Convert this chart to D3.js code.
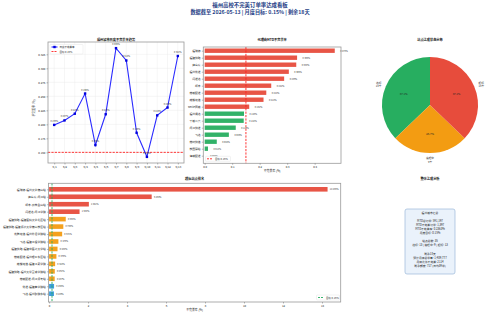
<!DOCTYPE html>
<html><head><meta charset="utf-8">
<script src="https://cdn.jsdelivr.net/npm/d3@7"></script>
<style>body{margin:0;background:#fff}svg{display:block;font-family:"Noto Sans CJK SC","Noto Sans",sans-serif}</style>
</head><body><svg id="c" width="500" height="314"></svg>
<script>
// ---------- data ----------
const mainTitle = "福州高校不完美订单率达成看板";
const subTitle = "数据截至 2026-05-13 | 月度目标: 0.15% | 剩余18天";
const target = 0.15;

const days = ["5/1","5/2","5/3","5/4","5/5","5/6","5/7","5/8","5/9","5/10","5/11","5/12","5/13"];
const dailyRate = [0.199,0.207,0.219,0.255,0.163,0.218,0.336,0.314,0.185,0.142,0.216,0.230,0.322];
const yTicksLine = [0.150,0.175,0.200,0.225,0.250,0.275,0.300,0.325];

const agents = ["福瑞德","福建快跑","蜂鸟众","福州优送","闪送达","顺丰","榕城配送","鼓楼速递","smile同城","福州通达","千城二六","闽江快送","飞达","榕树快递","校园驿站","海峡配送"];
const agentRate = [0.473,0.336,0.333,0.306,0.289,0.242,0.224,0.214,0.162,0.143,0.142,0.113,0.088,0.044,0.012,0.000];
const agentTicks = [0.0,0.1,0.2,0.3,0.4];

const statusLabels = ["达标","追赶中","超标"];
const statusCounts = [13,9,13];

const stations = ["福瑞德-福州大学旗山站","蜂鸟众-闽江站","顺丰-农林金山站","闪送达-闽江学院","福建快跑-福建医科大学北区站","福建快跑-福建师范大学旗山校区站","龙腾速递-福州外语学院站","飞达-福建工程学院站","福建快跑-福建中医药大学站","榕城配送-福州理工东区站","鼓楼速递-福建江夏学院","福建快跑-福州大学至诚学院站","榕城配送-闽江师专站","优送-福建商学院站","飞达-福州职院东站"];
const stationRate = [14.286,5.263,2.041,1.563,0.855,0.730,0.671,0.478,0.433,0.376,0.310,0.292,0.287,0.256,0.249];
const stationTicks = [0,2,4,6,8,10,12,14];

const summaryLines = ["福州城市汇总","","MTD总订单: 591,197","MTD不完美订单: 1,397","MTD不完美率: 0.2363%","月度目标: 0.15%","","站点总数: 35","达标: 13 | 追赶中: 9 | 超标: 13","","剩余18天","预计月底总单量: 1,409,777","月底允许不完美: 2114","剩余额度: 717 (日均39单)"];

// ---------- style ----------
const RED="#e74c3c", GREEN="#27ae60", ORANGE="#f39c12", BLUE="#3498db";
const svg = d3.select("#c");
const tickFont = 2.8;

function styleAxis(g){
  g.select(".domain").remove();
  g.selectAll(".tick line").attr("stroke","#555").attr("stroke-width",0.4);
  g.selectAll(".tick text").attr("font-size",tickFont).attr("fill","#222").attr("font-family",'"Noto Sans CJK SC","Noto Sans",sans-serif');
}
function frame(x0,y0,x1,y1){
  svg.append("rect").attr("x",x0).attr("y",y0).attr("width",x1-x0).attr("height",y1-y0)
    .attr("fill","none").attr("stroke","#9a9a9a").attr("stroke-width",0.8);
}
function title(x,y,t,size){
  svg.append("text").attr("x",x).attr("y",y).attr("text-anchor","middle").attr("font-size",size||3.2)
    .attr("font-weight","bold").attr("fill","#111").text(t);
}

// ---------- main titles ----------
svg.append("text").attr("x",250).attr("y",7.2).attr("text-anchor","middle").attr("font-size",5.4)
  .attr("font-weight","bold").attr("fill","#1f3f87").text(mainTitle);
svg.append("text").attr("x",250).attr("y",14.4).attr("text-anchor","middle").attr("font-size",5.2)
  .attr("font-weight","bold").attr("fill","#1f3f87").text(subTitle);

// ---------- chart 1: line ----------
{
  const L=48,R=184,T=42,B=163;
  const x=d3.scaleLinear().domain([-0.6,days.length-1+0.6]).range([L,R]);
  const y=d3.scaleLinear().domain([0.131,0.347]).range([B,T]);
  // grid
  svg.append("g").selectAll("line").data(yTicksLine).join("line")
    .attr("x1",L).attr("x2",R).attr("y1",d=>y(d)).attr("y2",d=>y(d)).attr("stroke","#e8e8e8").attr("stroke-width",0.4);
  svg.append("g").selectAll("line").data(days).join("line")
    .attr("y1",T).attr("y2",B).attr("x1",(d,i)=>x(i)).attr("x2",(d,i)=>x(i)).attr("stroke","#e8e8e8").attr("stroke-width",0.4);
  // target
  svg.append("line").attr("x1",L).attr("x2",R).attr("y1",y(target)).attr("y2",y(target))
    .attr("stroke","#ff2020").attr("stroke-width",0.9).attr("stroke-dasharray","2.2,1.2");
  // line
  svg.append("path").datum(dailyRate).attr("fill","none").attr("stroke","#2a2aff").attr("stroke-width",1.1)
    .attr("d",d3.line().x((d,i)=>x(i)).y(d=>y(d)));
  svg.append("g").selectAll("rect").data(dailyRate).join("rect")
    .attr("x",(d,i)=>x(i)-1.2).attr("y",d=>y(d)-1.2).attr("width",2.4).attr("height",2.4).attr("fill","#0000dd");
  svg.append("g").selectAll("text").data(dailyRate).join("text")
    .attr("x",(d,i)=>x(i)).attr("y",d=>y(d)-3).attr("text-anchor","middle").attr("font-size",2.2).attr("fill","#333")
    .text(d=>d.toFixed(3)+"%");
  frame(L,T,R,B);
  svg.append("g").attr("transform",`translate(0,${B})`)
    .call(d3.axisBottom(x).tickValues(d3.range(days.length)).tickFormat(i=>days[i]).tickSize(1.5).tickPadding(1.2)).call(styleAxis);
  svg.append("g").attr("transform",`translate(${L},0)`)
    .call(d3.axisLeft(y).tickValues(yTicksLine).tickFormat(d3.format(".3f")).tickSize(1.5).tickPadding(1.2)).call(styleAxis);
  svg.append("text").attr("transform",`translate(35,108) rotate(-90)`).attr("text-anchor","middle").attr("font-size",2.9).attr("fill","#222").text("不完美率 (%)");
  title((L+R)/2,41,"福州城市日度不完美率趋势");
  // legend
  svg.append("rect").attr("x",50).attr("y",44.5).attr("width",33).attr("height",9.5).attr("fill","#fff").attr("stroke","#ddd").attr("stroke-width",0.4).attr("rx",0.8);
  svg.append("line").attr("x1",51.5).attr("x2",57.5).attr("y1",47).attr("y2",47).attr("stroke","#2a2aff").attr("stroke-width",1.1);
  svg.append("rect").attr("x",53.3).attr("y",45.8).attr("width",2.4).attr("height",2.4).attr("fill","#0000dd");
  svg.append("text").attr("x",59.5).attr("y",48).attr("font-size",2.5).attr("fill","#222").text("日度不完美率");
  svg.append("line").attr("x1",51.5).attr("x2",57.5).attr("y1",51.5).attr("y2",51.5).attr("stroke","#ff2020").attr("stroke-width",0.9).attr("stroke-dasharray","2,1");
  svg.append("text").attr("x",59.5).attr("y",52.5).attr("font-size",2.5).attr("fill","#222").text("目标 0.15%");
}

// ---------- chart 2: agent bars ----------
{
  const L=203.3,R=341,T=47,B=163.3;
  const x=d3.scaleLinear().domain([-0.005,0.4957]).range([L,R]);
  const y=d3.scalePoint().domain(agents).range([50.7,155.7]);
  const bh=4.4;
  svg.append("g").selectAll("rect").data(agents).join("rect")
    .attr("x",x(0)).attr("y",d=>y(d)-bh/2).attr("height",bh)
    .attr("width",(d,i)=>x(agentRate[i])-x(0))
    .attr("fill",(d,i)=>agentRate[i]>target?RED:GREEN).attr("opacity",0.95);
  svg.append("g").selectAll("text").data(agents).join("text")
    .attr("x",(d,i)=>x(agentRate[i]+0.02)).attr("y",d=>y(d)+0.8).attr("font-size",2.2).attr("fill","#333")
    .text((d,i)=>agentRate[i].toFixed(3)+"%");
  svg.append("line").attr("x1",x(target)).attr("x2",x(target)).attr("y1",T).attr("y2",B)
    .attr("stroke","#ff2020").attr("stroke-width",0.9).attr("stroke-dasharray","2.2,1.2");
  frame(L,T,R,B);
  svg.append("g").attr("transform",`translate(0,${B})`)
    .call(d3.axisBottom(x).tickValues(agentTicks).tickFormat(d3.format(".1f")).tickSize(1.5).tickPadding(1.2)).call(styleAxis);
  svg.append("g").attr("transform",`translate(${L},0)`)
    .call(d3.axisLeft(y).tickSize(1.5).tickPadding(1.2)).call(styleAxis);
  svg.append("text").attr("x",(L+R)/2).attr("y",171.5).attr("text-anchor","middle").attr("font-size",2.9).attr("fill","#222").text("不完美率 (%)");
  title((L+R)/2,41,"代理商MTD不完美率");
  svg.append("rect").attr("x",205.5).attr("y",156.3).attr("width",25).attr("height",5).attr("fill","#fff").attr("stroke","#ddd").attr("stroke-width",0.4).attr("rx",0.8);
  svg.append("line").attr("x1",207).attr("x2",213).attr("y1",158.8).attr("y2",158.8).attr("stroke","#ff2020").attr("stroke-width",0.9).attr("stroke-dasharray","2,1");
  svg.append("text").attr("x",215).attr("y",159.8).attr("font-size",2.5).attr("fill","#222").text("目标 0.15%");
}

// ---------- chart 3: pie ----------
{
  const cx=430, cy=105, r=48;
  const colors=[GREEN,ORANGE,RED];
  const total=d3.sum(statusCounts);
  const arcs=d3.pie().sort(null).startAngle(0).endAngle(-2*Math.PI)(statusCounts);
  const g=svg.append("g").attr("transform",`translate(${cx},${cy})`);
  g.selectAll("path").data(arcs).join("path").attr("d",d3.arc().innerRadius(0).outerRadius(r)).attr("fill",(d,i)=>colors[i]);
  arcs.forEach((a,i)=>{
    const m=(a.startAngle+a.endAngle)/2;
    const px=Math.sin(m), py=-Math.cos(m);
    g.append("text").attr("x",px*r*0.6).attr("y",py*r*0.6+1).attr("text-anchor","middle").attr("font-size",2.7).attr("fill","#222")
      .text((statusCounts[i]/total*100).toFixed(1)+"%");
    const lx=px*r*1.1, ly=py*r*1.1;
    const anchor = Math.abs(px)<0.1?"middle":(px<0?"end":"start");
    const t=g.append("text").attr("text-anchor",anchor).attr("font-size",2.7).attr("fill","#222");
    const y0 = Math.abs(px)<0.1 ? ly+1.5 : ly-0.5;
    t.append("tspan").attr("x",lx).attr("y",y0).text(statusLabels[i]);
    t.append("tspan").attr("x",lx).attr("y",y0+3.2).text(statusCounts[i]+"个");
  });
  title(cx,41,"站点达成状态分布");
}

// ---------- chart 4: station bars ----------
{
  const L=48.5,R=340.7,T=183.3,B=302;
  const x=d3.scaleLinear().domain([-0.03,14.96]).range([L,R]);
  const y=d3.scalePoint().domain(stations).range([189.3,293.7]);
  const bh=4.6;
  const col=v=>v>=1?RED:(v>=0.27?ORANGE:BLUE);
  svg.append("g").selectAll("rect").data(stations).join("rect")
    .attr("x",x(0)).attr("y",d=>y(d)-bh/2).attr("height",bh)
    .attr("width",(d,i)=>x(stationRate[i])-x(0))
    .attr("fill",(d,i)=>col(stationRate[i])).attr("opacity",0.95);
  svg.append("g").selectAll("text").data(stations).join("text")
    .attr("x",(d,i)=>x(stationRate[i])+2.2).attr("y",d=>y(d)+0.8).attr("font-size",2.2).attr("fill","#333")
    .text((d,i)=>stationRate[i].toFixed(3)+"%");
  svg.append("line").attr("x1",x(target)).attr("x2",x(target)).attr("y1",T).attr("y2",B)
    .attr("stroke","#27ae60").attr("stroke-width",0.9).attr("stroke-dasharray","2.2,1.2");
  frame(L,T,R,B);
  svg.append("g").attr("transform",`translate(0,${B})`)
    .call(d3.axisBottom(x).tickValues(stationTicks).tickFormat(d3.format("d")).tickSize(1.5).tickPadding(1.2)).call(styleAxis);
  svg.append("g").attr("transform",`translate(${L},0)`)
    .call(d3.axisLeft(y).tickSize(1.5).tickPadding(1.2)).call(styleAxis);
  svg.append("text").attr("x",(L+R)/2).attr("y",311).attr("text-anchor","middle").attr("font-size",2.9).attr("fill","#222").text("不完美率 (%)");
  title((L+R)/2,180,"超标站点排名");
  svg.append("rect").attr("x",316.5).attr("y",295).attr("width",23).attr("height",5).attr("fill","#fff").attr("stroke","#ddd").attr("stroke-width",0.4).attr("rx",0.8);
  svg.append("line").attr("x1",318).attr("x2",324).attr("y1",297.5).attr("y2",297.5).attr("stroke","#27ae60").attr("stroke-width",0.9).attr("stroke-dasharray","2,1");
  svg.append("text").attr("x",326).attr("y",298.5).attr("font-size",2.5).attr("fill","#222").text("目标 0.15%");
}

// ---------- chart 5: summary ----------
{
  title(430,180,"整体达成分析");
  svg.append("rect").attr("x",405).attr("y",209).attr("width",50).attr("height",65).attr("rx",2)
    .attr("fill","#eaf2fb").attr("stroke","#9bb8da").attr("stroke-width",0.7);
  svg.append("g").selectAll("text").data(summaryLines).join("text")
    .attr("x",430).attr("y",(d,i)=>214+i*4.05).attr("text-anchor","middle").attr("font-size",2.8).attr("fill","#222")
    .text(d=>d);
}
</script></body></html>
